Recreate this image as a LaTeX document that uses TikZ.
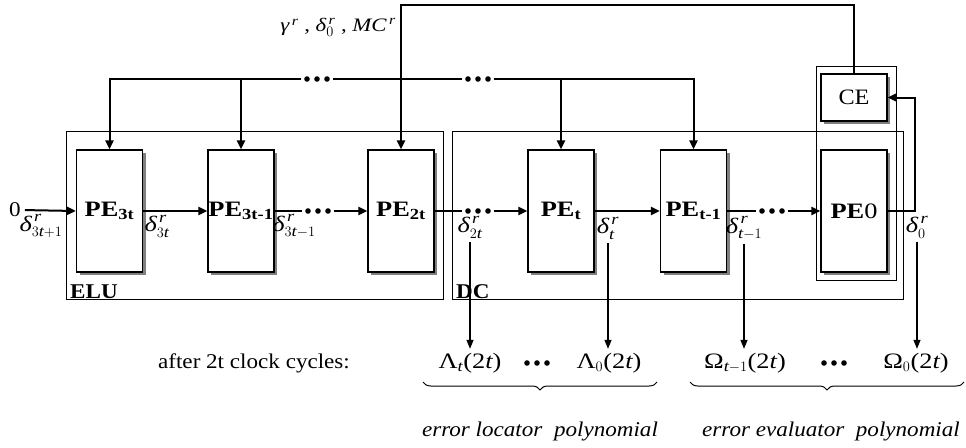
\documentclass[tikz,border=0pt]{standalone}
\usepackage{amsmath}
\usepackage{fontspec}
\setmainfont{Liberation Serif}
\newfontfamily\pefont{Liberation Serif}[FakeStretch=1.2]
\newfontfamily\txtfont{Liberation Serif}[FakeStretch=1.1]
\usetikzlibrary{arrows.meta,shadows,decorations.pathreplacing}
\newcommand\dlt[1]{$\textit{δ}^{\,\textit{r}}_{#1}$}
\begin{document}
\begin{tikzpicture}[x=1pt,y=-1pt,
  every node/.style={inner sep=0pt},
  pebox/.style={draw, line width=1.2pt, fill=white, minimum width=66pt, minimum height=122pt,
    font=\pefont\fontsize{22}{26}\selectfont\bfseries,
    drop shadow={shadow xshift=3pt,shadow yshift=-3pt,fill=black!50,opacity=1}},
  cebox/.style={pebox, minimum height=47pt, font=\txtfont\fontsize{22}{26}\selectfont},
  frame/.style={draw, line width=1.2pt},
  bus/.style={line width=2pt},
  arr/.style={bus, -{Triangle[length=9pt,width=8pt]}},
  darr/.style={line width=1.2pt, -{Triangle[length=9pt,width=7pt]}},
  dl/.style={font=\pefont\fontsize{22}{26}\selectfont},
  lbl/.style={font=\txtfont\fontsize{21}{25}\selectfont},
  mlbl/.style={font=\pefont\fontsize{22}{26}\selectfont},
  brc/.style={line width=1pt, decorate, decoration={brace, mirror, amplitude=8pt}},
  dotsn/.style={minimum width=27pt, minimum height=6pt,
    path picture={
      \fill (path picture bounding box.center) circle[radius=2.8pt];
      \fill ([xshift=-10pt]path picture bounding box.center) circle[radius=2.8pt];
      \fill ([xshift=10pt]path picture bounding box.center) circle[radius=2.8pt];}},
]
\useasboundingbox (0,0) rectangle (966,447);

% containers
\node[frame, anchor=north west, minimum width=377pt, minimum height=168pt] (ELU) at (66,131) {};
\node[frame, anchor=north west, minimum width=451pt, minimum height=168pt] (DC) at (452,131) {};
\node[frame, anchor=north west, minimum width=80pt, minimum height=214pt] (CEO) at (816,66) {};
\node[font=\txtfont\fontsize{21}{25}\selectfont\bfseries, anchor=base west] (ELUl) at ([xshift=4pt,yshift=2pt]ELU.south west) {ELU};
\node[font=\txtfont\fontsize{21}{25}\selectfont\bfseries, anchor=base west] (DCl) at ([xshift=4pt,yshift=2pt]DC.south west) {DC};

% PEs
\node[pebox] (P1) at (109.5,211) {PE\textsubscript{3t}};
\node[pebox] (P2) at (241,211) {PE\textsubscript{3t-1}};
\node[pebox] (P3) at (401,211) {PE\textsubscript{2t}};
\node[pebox] (P4) at (561,211) {PE\textsubscript{t}};
\node[pebox] (P5) at (693.5,211) {PE\textsubscript{t-1}};
\node[pebox] (P6) at (854,211) {PE\textmd{0}};
\node[cebox] (CE) at (854,97.5) {CE};

% dots
\node[dotsn] (d1) at (318,211) {};
\node[dotsn] (d2) at (478,211) {};
\node[dotsn] (d3) at (772,211) {};
\node[dotsn] (d4) at (317,79) {};
\node[dotsn] (d5) at (478,79) {};

% input
\node[lbl] (zero) at (15,210) {0};
\draw[arr, shorten <=4pt] (zero.east) -- (P1.west);
% chain
\draw[arr] (P1) -- (P2);
\draw[bus, shorten >=2pt] (P2.east) -- (d1.west);
\draw[arr, shorten <=2pt] (d1.east) -- (P3.west);
\draw[bus, shorten >=2pt] (P3.east) -- (d2.west);
\draw[arr, shorten <=2pt] (d2.east) -- (P4.west);
\draw[arr] (P4) -- (P5);
\draw[bus, shorten >=2pt] (P5.east) -- (d3.west);
\draw[arr, shorten <=2pt] (d3.east) -- (P6.west);
\coordinate (fb) at (915,0);
\draw[arr] (P6.east) -- (P6.east -| fb) |- (CE.east);

% top control line
\coordinate (topy) at (0,5);
\draw[arr] (CE.north) -- (CE.north |- topy) -| (P3.north);
\node[font=\pefont\fontsize{19}{23}\selectfont, anchor=east] (gl) at (396,27) {$\textit{γ}^{\,\textit{r}}\text{ , }\textit{δ}^{\,\textit{r}}_{0}\text{ , }\textit{MC}^{\,\textit{r}}$};

% bus
\draw[arr, shorten <=2pt] (d4.west) -| (P1.north);
\draw[arr] (P2.north |- d4.west) -- (P2.north);
\draw[bus, shorten <=2pt, shorten >=2pt] (d4.east) -- (d5.west);
\draw[arr, shorten <=2pt] (d5.east) -| (P5.north);
\draw[arr] (P4.north |- d5.east) -- (P4.north);

% delta labels
\node[dl] (l0) at (41,226) {\dlt{3\textit{t}+1}};
\node[dl] (l1) at (157,226) {\dlt{3\textit{t}}};
\node[dl] (l2) at (294,226) {\dlt{3\textit{t}-1}};
\node[dl] (l3) at (470,227) {\dlt{2\textit{t}}};
\node[dl] (l4) at (608,228) {\dlt{\textit{t}}};
\node[dl] (l5) at (744,228) {\dlt{\textit{t}-1}};
\node[dl] (l6) at (917,227) {\dlt{0}};

% bottom row
\node[lbl] (after) at (254,363) {after 2t clock cycles:};
\node[mlbl] (L1) at (470,363) {$\text{Λ}_{\textit{t}}\text{(2}\textit{t}\text{)}$};
\node[dotsn] (d6) at (537,363) {};
\node[mlbl] (L2) at (609,363) {$\text{Λ}_{0}\text{(2}\textit{t}\text{)}$};
\node[mlbl] (O1) at (745,363) {$\text{Ω}_{\textit{t}-1}\text{(2}\textit{t}\text{)}$};
\node[dotsn] (d7) at (834,363) {};
\node[mlbl] (O2) at (916,363) {$\text{Ω}_{0}\text{(2}\textit{t}\text{)}$};

\draw[darr, shorten <=4pt, shorten >=4pt] (l3.south) -- (l3.south |- L1.north);
\draw[darr, shorten <=4pt, shorten >=4pt] (l4.south) -- (l4.south |- L2.north);
\draw[darr, shorten <=4pt, shorten >=4pt] (l5.south) -- (l5.south |- O1.north);
\draw[darr, shorten <=4pt, shorten >=4pt] (l6.south) -- (l6.south |- O2.north);

% braces
\coordinate (b1s) at (423,382);
\coordinate (b1e) at (657,382);
\coordinate (b2s) at (690,382);
\coordinate (b2e) at (964,382);
\draw[brc] (b1s) -- (b1e);
\draw[brc] (b2s) -- (b2e);
\node[font=\txtfont\fontsize{21}{25}\selectfont\itshape] (elp) at (540,431) {error locator\ \ polynomial};
\node[font=\txtfont\fontsize{21}{25}\selectfont\itshape] (eep) at (831,431) {error evaluator\ \ polynomial};
\end{tikzpicture}
\end{document}
